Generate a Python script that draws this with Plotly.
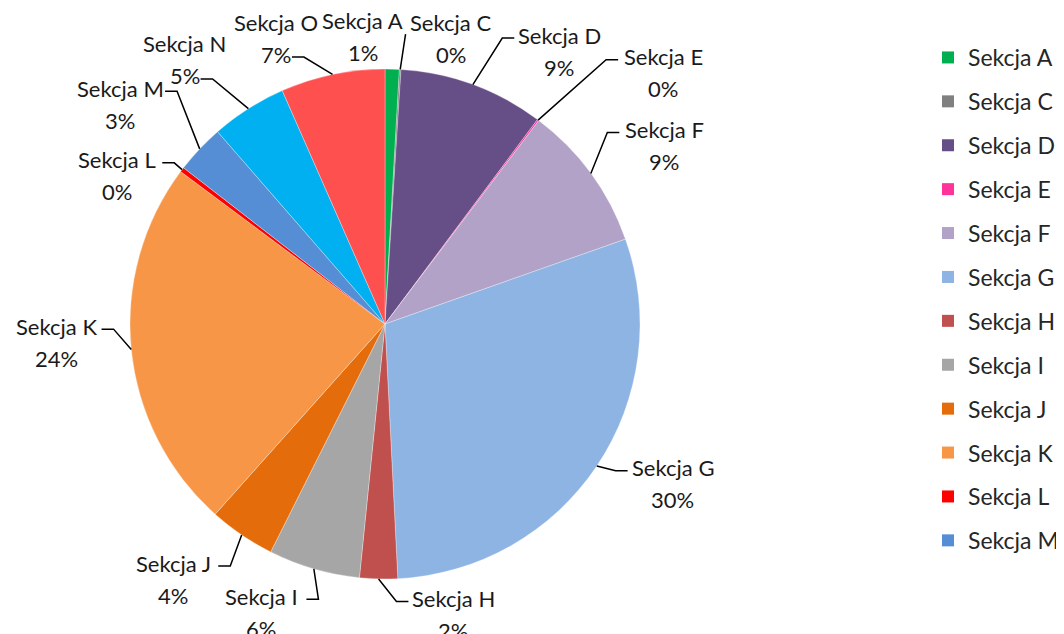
import math
import plotly.graph_objects as go

# ---------------- data ----------------
labels = ["Sekcja A", "Sekcja C", "Sekcja D", "Sekcja E", "Sekcja F", "Sekcja G",
          "Sekcja H", "Sekcja I", "Sekcja J", "Sekcja K", "Sekcja L", "Sekcja M",
          "Sekcja N", "Sekcja O"]
values = [0.9, 0.1, 9.2, 0.1, 9.3, 29.6, 2.4, 5.8, 4.2, 23.6, 0.3, 3.1, 4.8, 6.6]
colors = ["#00B050", "#808080", "#664E87", "#FF3399", "#B3A2C7", "#8EB4E3",
          "#C0504D", "#A6A6A6", "#E46C0A", "#F79646", "#FF0000", "#558ED5",
          "#00B0F0", "#FF5050"]
legend_labels = labels[:12]   # legend in the original is cut after "Sekcja M"

# ---------------- layout helpers ----------------
W, H = 1064, 634
SHIFT = 8                     # page body margin offset
CX, CY, R = 385, 324, 255
FONT = "Lato"

# label placement: angle offset (deg), radius factor, attach side, attach line,
# elbow length (px), extra vertical attach offset (px)
label_place = {
    "Sekcja A": (-6.0, 1.13, None, 1, 12, 3),
    "Sekcja C": (9.5, 1.15, "l", 1, 0, 12),
    "Sekcja D": (12.4, 1.27, "l", 1, 12, 3),
    "Sekcja E": (11.0, 1.47, "l", 1, 12, 3),
    "Sekcja F": (3.6, 1.30, "l", 1, 12, 3),
    "Sekcja G": (-4.8, 1.29, "l", 1, 12, 3),
    "Sekcja H": (-14.7, 1.17, "l", 1, 12, 3),
    "Sekcja I": (7.0, 1.23, "r", 1, 12, 3),
    "Sekcja J": (5.5, 1.30, "r", 1, 12, 3),
    "Sekcja K": (2.6, 1.29, "r", 1, 12, 3),
    "Sekcja L": (-8.3, 1.20, "r", 1, 12, 3),
    "Sekcja M": (-3.7, 1.35, "r", 1, 12, 3),
    "Sekcja N": (-4.8, 1.30, "r", 2, 12, 3),
    "Sekcja O": (-9.0, 1.20, "r", 2, 12, 3),
}


def px(x):
    return (x - SHIFT) / W


def py(y):
    return 1 - (y - SHIFT) / H


fig = go.Figure()
fig.add_trace(go.Pie(
    labels=labels, values=values, sort=False, direction="clockwise", rotation=0,
    marker=dict(colors=colors, line=dict(color="rgba(255,255,255,0.6)", width=0.5)),
    textinfo="none", hoverinfo="label+percent", showlegend=False,
    domain=dict(x=[px(CX - R), px(CX + R)], y=[py(CY + R), py(CY - R)]),
))

# legend entries (dummy traces so that only A..M appear, like the cropped original)
for lab, col in zip(legend_labels, colors[:12]):
    fig.add_trace(go.Scatter(
        x=[None], y=[None], mode="markers", name=lab, legendgroup=lab,
        marker=dict(symbol="square", size=12, color=col), showlegend=True,
    ))

total = sum(values)
annotations = []
shapes = []
cum = 0.0
for lab, v in zip(labels, values):
    frac = v / total
    mid = (cum + frac / 2) * 2 * math.pi
    cum += frac
    off, rf, side, line, elbow, dy = label_place[lab]
    a = mid + math.radians(off)
    lx = CX + rf * R * math.sin(a)
    ly = CY - rf * R * math.cos(a)
    pct = f"{round(frac * 100)}%"
    y1, y2 = ly - 16, ly + 16
    for txt, yy in ((lab, y1), (pct, y2)):
        annotations.append(dict(
            x=px(lx), y=py(yy), xref="paper", yref="paper", text=txt,
            showarrow=False, xanchor="center", yanchor="middle",
            font=dict(family=FONT, size=22, color="#1a1a1a"),
        ))
    if side is None:
        continue
    sx = CX + R * math.sin(mid)
    sy = CY - R * math.cos(mid)
    w = 82 if line == 1 else 12 * len(pct)
    ay = (y1 if line == 1 else y2) + dy
    if side == "l":
        ax = lx - w / 2 - 4
        ex = ax - elbow
    else:
        ax = lx + w / 2 + 4
        ex = ax + elbow
    shapes.append(dict(
        type="path", xref="paper", yref="paper",
        path=f"M {px(ax)} {py(ay)} L {px(ex)} {py(ay)} L {px(sx)} {py(sy)}",
        line=dict(color="black", width=1.5),
    ))

fig.update_layout(
    width=W, height=H,
    margin=dict(l=0, r=0, t=0, b=0),
    paper_bgcolor="white", plot_bgcolor="white",
    xaxis=dict(visible=False), yaxis=dict(visible=False),
    annotations=annotations, shapes=shapes,
    legend=dict(
        x=px(928), y=py(36), xanchor="left", yanchor="top",
        font=dict(family=FONT, size=23, color="#262626"),
        tracegroupgap=11, bgcolor="rgba(0,0,0,0)",
    ),
)

fig.write_html("out.html")
